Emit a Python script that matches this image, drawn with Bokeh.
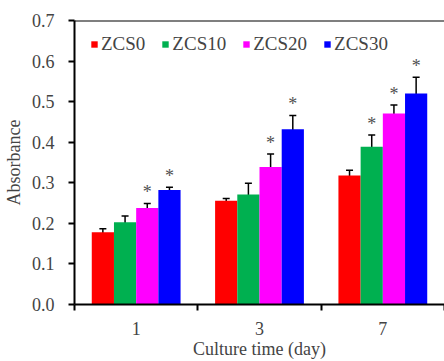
import numpy as np
from bokeh.plotting import figure
from bokeh.models import (ColumnDataSource, Whisker, TeeHead, FixedTicker, Span, Legend,
                          LegendItem, PrintfTickFormatter)
from bokeh.core.properties import value
from bokeh.embed import file_html
from bokeh.resources import INLINE

days = ["1", "3", "7"]
series = ["ZCS0", "ZCS10", "ZCS20", "ZCS30"]
colors = ["#FF0000", "#00B050", "#FF00FF", "#0000FF"]

zcs0 = [0.178, 0.256, 0.318]
zcs0_err = [0.009, 0.005, 0.013]
zcs10 = [0.203, 0.271, 0.389]
zcs10_err = [0.015, 0.028, 0.029]
zcs20 = [0.238, 0.339, 0.471]
zcs20_err = [0.011, 0.032, 0.021]
zcs30 = [0.282, 0.432, 0.520]
zcs30_err = [0.007, 0.034, 0.040]

zcs0_star = [False, False, False]
zcs10_star = [False, False, True]
zcs20_star = [True, True, True]
zcs30_star = [True, True, True]

y_ticks = [0.0, 0.1, 0.2, 0.3, 0.4, 0.5, 0.6, 0.7]

values = [zcs0, zcs10, zcs20, zcs30]
errors = [zcs0_err, zcs10_err, zcs20_err, zcs30_err]
stars = [zcs0_star, zcs10_star, zcs20_star, zcs30_star]

FONT = "Liberation Serif"
bar_w = 0.18
centers = np.arange(len(days)) + 0.5

p = figure(width=444, height=361, x_range=(0, 3), y_range=(0, 0.7),
           output_backend="svg", toolbar_location=None,
           min_border_left=72, min_border_top=20, min_border_right=0, min_border_bottom=56)
p.grid.visible = False
p.outline_line_color = None
p.background_fill_color = "white"
p.border_fill_color = "white"

items = []
for i, (name, col) in enumerate(zip(series, colors)):
    xs = centers + (i - 1.5) * bar_w
    v = np.array(values[i])
    e = np.array(errors[i])
    src = ColumnDataSource(dict(x=xs, top=v, upper=v + e, lower=v - e))
    r = p.vbar(x="x", top="top", width=bar_w, source=src, fill_color=col, line_color=None)
    items.append(LegendItem(label=name, renderers=[r]))
    w = Whisker(base="x", upper="upper", lower="lower", source=src, dimension="height",
                line_color="black", line_width=1.5,
                upper_head=TeeHead(size=7, line_color="black", line_width=1.5),
                lower_head=TeeHead(size=7, line_color="black", line_width=1.5))
    p.add_layout(w)
    sx = [x for x, s in zip(xs, stars[i]) if s]
    sy = [u for u, s in zip(v + e, stars[i]) if s]
    if sx:
        p.text(x=sx, y=sy, text=["*"] * len(sx), text_font=value(FONT),
               text_font_size="18px", text_color="#505050",
               text_align="center", text_baseline="bottom", y_offset=-1)

top_line = Span(location=0.7, dimension="width", line_color="black", line_width=2)
p.add_layout(top_line)

legend = Legend(items=items, orientation="horizontal", location=(16, 249),
                border_line_color=None, background_fill_alpha=0,
                padding=0, spacing=16, label_standoff=3,
                glyph_width=8, glyph_height=8,
                label_text_font=FONT, label_text_font_style="normal",
                label_text_font_size="19px")
p.add_layout(legend)

# y axis
p.yaxis.ticker = FixedTicker(ticks=y_ticks)
p.yaxis.formatter = PrintfTickFormatter(format="%.1f")
p.yaxis.axis_label = "Absorbance"
p.yaxis.axis_label_text_font = FONT
p.yaxis.axis_label_text_font_style = "normal"
p.yaxis.axis_label_text_font_size = "18px"
p.yaxis.major_label_text_font = FONT
p.yaxis.major_label_text_font_style = "normal"
p.yaxis.major_label_text_font_size = "18px"
p.yaxis.major_tick_in = 0
p.yaxis.major_tick_out = 6
p.yaxis.minor_tick_out = 0
p.yaxis.minor_tick_in = 0
p.yaxis.axis_line_width = 2
p.yaxis.major_tick_line_width = 2
p.yaxis.major_label_standoff = 14
p.yaxis.axis_label_standoff = 5

# x axis
p.xaxis.ticker = FixedTicker(ticks=list(centers), minor_ticks=[0, 1, 2, 3])
p.xaxis.major_label_overrides = {float(c): d for c, d in zip(centers, days)}
p.xaxis.axis_label = "Culture time (day)"
p.xaxis.axis_label_text_font = FONT
p.xaxis.axis_label_text_font_style = "normal"
p.xaxis.axis_label_text_font_size = "18px"
p.xaxis.major_label_text_font = FONT
p.xaxis.major_label_text_font_style = "normal"
p.xaxis.major_label_text_font_size = "18px"
p.xaxis.major_tick_in = 0
p.xaxis.major_tick_out = 0
p.xaxis.minor_tick_in = 0
p.xaxis.minor_tick_out = 6
p.xaxis.minor_tick_line_width = 2
p.xaxis.axis_line_width = 2
p.xaxis.major_label_standoff = 11
p.xaxis.axis_label_standoff = 1

open("out.html", "w").write(file_html(p, INLINE))
